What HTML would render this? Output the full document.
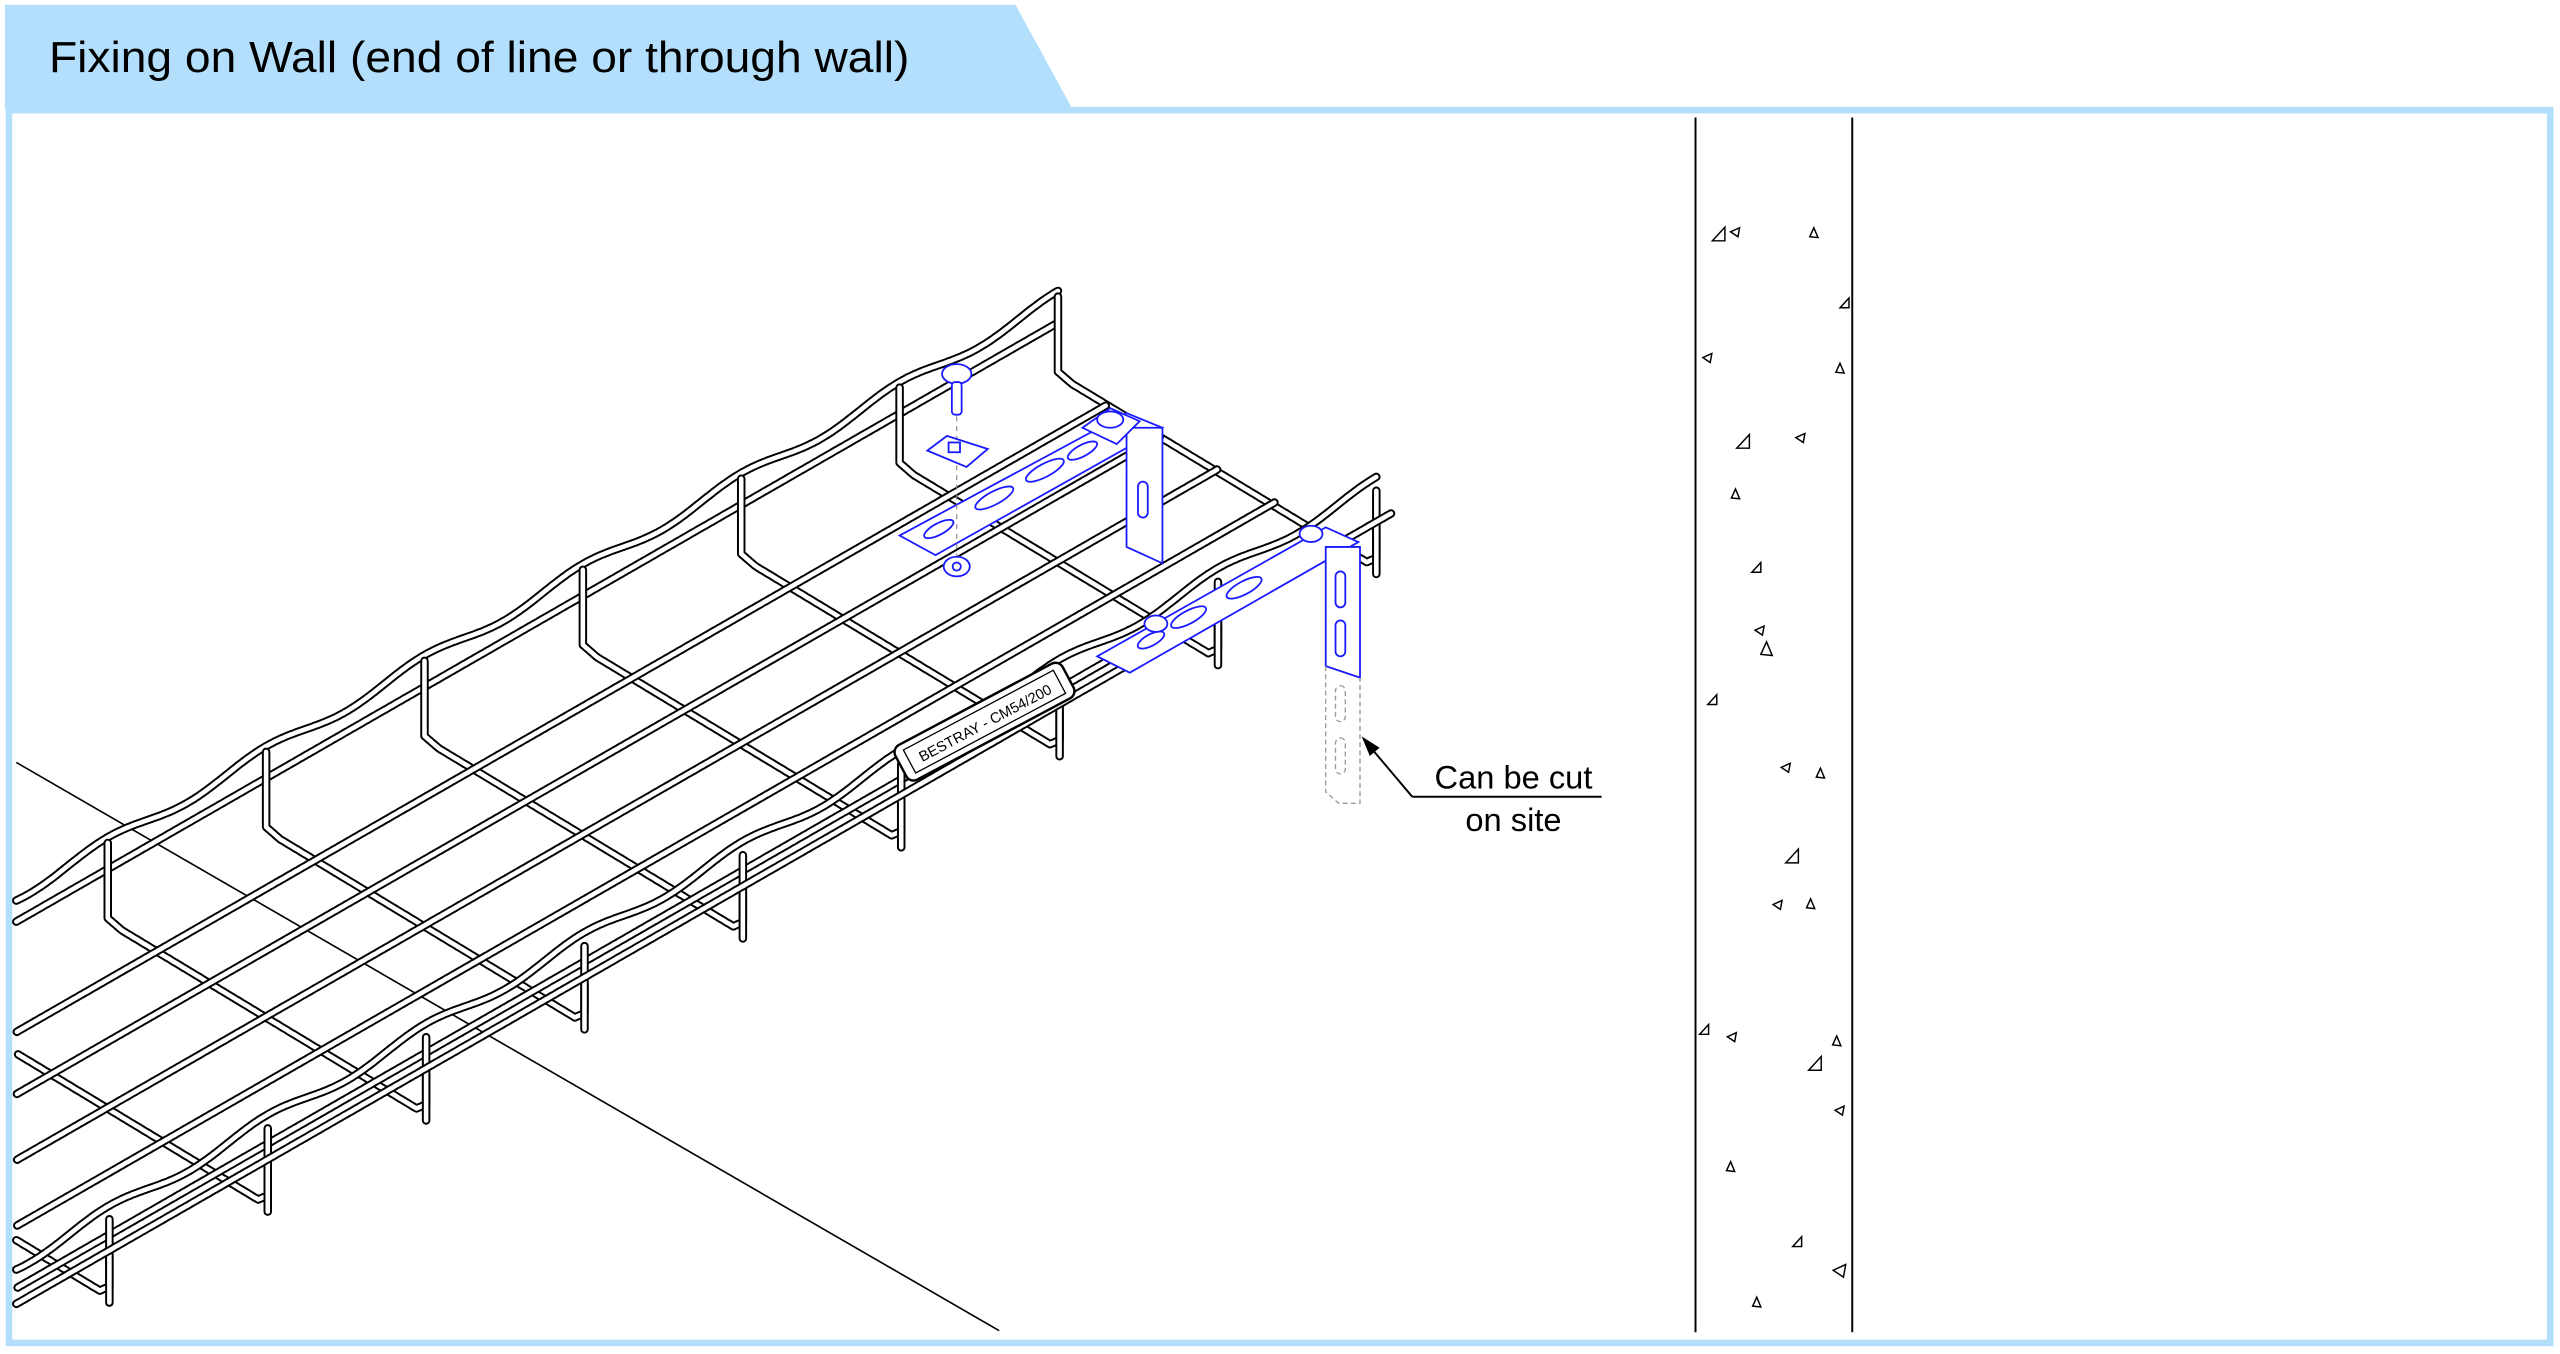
<!DOCTYPE html>
<html><head><meta charset="utf-8">
<style>
html,body{margin:0;padding:0;background:#fff;width:2560px;height:1354px;overflow:hidden;position:relative;}
svg#s{display:block;position:absolute;left:0;top:0;}
</style></head>
<body>
<svg id="s" width="2560" height="1354" viewBox="0 0 1568 829.3" preserveAspectRatio="none" xmlns="http://www.w3.org/2000/svg">
<rect x="0" y="0" width="1568" height="829.3" fill="#fff"/>
<polygon points="3,3 622,3 657,67 3,67" fill="#b3dffd"/>
<rect x="5.5" y="67.5" width="1556.5" height="755" fill="none" stroke="#b3dffd" stroke-width="4"/>
<text x="30" y="44" font-family="Liberation Sans, sans-serif" font-size="26.5" textLength="527" lengthAdjust="spacingAndGlyphs" fill="#000">Fixing on Wall (end of line or through wall)</text>
<line x1="1038.5" y1="72" x2="1038.5" y2="816" stroke="#000" stroke-width="1.2"/>
<line x1="1134.5" y1="72" x2="1134.5" y2="816" stroke="#000" stroke-width="1.2"/>
<g id="tri" fill="none" stroke="#000" stroke-width="0.9"></g>
<line x1="10" y1="467" x2="612" y2="815" stroke="#000" stroke-width="1"/>
<g id="tray" fill="none" stroke-linejoin="round" stroke-linecap="round"></g>
<g fill="#fff" stroke="#1a1aff" stroke-width="1.1">
 <polygon points="551,328 690,253 712,262 573,340"/>
 <polygon points="690,262 712,262 712,345 690,335"/>
 <rect x="697" y="295" width="6" height="22" rx="3"/>
 <ellipse cx="609" cy="305" rx="13" ry="4" transform="rotate(-28 609 305)"/>
 <ellipse cx="640" cy="288" rx="13" ry="4" transform="rotate(-28 640 288)"/>
 <ellipse cx="663" cy="276" rx="10" ry="3.5" transform="rotate(-28 663 276)"/>
 <ellipse cx="575" cy="324" rx="10" ry="3.5" transform="rotate(-28 575 324)"/>
 <polygon points="663,262 680,250 698,258 684,272"/>
 <ellipse cx="680" cy="257" rx="8" ry="5"/>
 <ellipse cx="586" cy="229" rx="9" ry="6"/>
 <rect x="583" y="234" width="6" height="20" rx="2"/>
 <line x1="586" y1="255" x2="586" y2="345" stroke-dasharray="3,3" stroke="#888" stroke-width="0.7"/>
 <polygon points="568,276 580,267 605,275 592,286"/>
 <rect x="581" y="271" width="7" height="6"/>
 <ellipse cx="586" cy="347" rx="8" ry="6"/>
 <circle cx="586" cy="347" r="2.5"/>
 <polygon points="672,402 812,323 832,332 692,412"/>
 <polygon points="812,335 833,335 833,415 812,408"/>
 <rect x="818" y="350" width="6" height="22" rx="3"/>
 <rect x="818" y="380" width="6" height="22" rx="3"/>
 <ellipse cx="728" cy="378" rx="12" ry="4" transform="rotate(-28 728 378)"/>
 <ellipse cx="762" cy="360" rx="12" ry="4" transform="rotate(-28 762 360)"/>
 <ellipse cx="705" cy="392" rx="9" ry="3.5" transform="rotate(-28 705 392)"/>
 <ellipse cx="803" cy="327" rx="7" ry="5"/>
 <ellipse cx="708" cy="382" rx="7" ry="5"/>
</g>
<g fill="none" stroke="#999" stroke-width="0.8" stroke-dasharray="3,2">
 <polyline points="812,408 812,485 820,492 833,492 833,415"/>
 <rect x="818" y="420" width="6" height="22" rx="3"/>
 <rect x="818" y="452" width="6" height="22" rx="3"/>
</g>
<g transform="translate(603,442) rotate(-28)">
 <rect x="-58" y="-12" width="116" height="24" rx="5" fill="#fff" stroke="#000" stroke-width="1.5"/>
 <rect x="-52" y="-8" width="104" height="16" fill="#fff" stroke="#000" stroke-width="0.8"/>
 <text x="0" y="4" text-anchor="middle" font-family="Liberation Sans, sans-serif" font-size="9" fill="#000">BESTRAY - CM54/200</text>
</g>
<line x1="865" y1="488" x2="981" y2="488" stroke="#000" stroke-width="1.2"/>
<line x1="865" y1="488" x2="838" y2="456" stroke="#000" stroke-width="1.2"/>
<polygon points="834,451 845,458 839,463" fill="#000"/>
<text x="927" y="483" text-anchor="middle" font-family="Liberation Sans, sans-serif" font-size="20" fill="#000">Can be cut</text>
<text x="927" y="509" text-anchor="middle" font-family="Liberation Sans, sans-serif" font-size="20" fill="#000">on site</text>
</svg>
<script>
(function(){
var NS="http://www.w3.org/2000/svg";
var tray=document.getElementById("tray");
function P(x,t,h){return [x+195*t, 290-0.575*(x-550)+112*t-h];}
function pts(a){return a.map(function(p){return p[0].toFixed(1)+","+p[1].toFixed(1);}).join(" ");}
function inside(p){return p[0]>=10&&p[0]<=1558&&p[1]>=72&&p[1]<=818;}
function dens(a){var o=[a[0]];for(var i=1;i<a.length;i++){var p=a[i-1],q=a[i];var d=Math.hypot(q[0]-p[0],q[1]-p[1]);var n=Math.max(1,Math.ceil(d/1.5));for(var k=1;k<=n;k++)o.push([p[0]+(q[0]-p[0])*k/n,p[1]+(q[1]-p[1])*k/n]);}return o;}
function draw(a){if(a.length<2)return;
 [["#000",5.2],["#fff",2.8]].forEach(function(s){
  var e=document.createElementNS(NS,"polyline");
  e.setAttribute("points",pts(a));e.setAttribute("stroke",s[0]);e.setAttribute("stroke-width",s[1]);
  tray.appendChild(e);});}
function tube(a){
 var d=dens(a),run=[];
 d.forEach(function(p){if(inside(p))run.push(p);else{draw(run);run=[];}});
 draw(run);
}
var xs=[];for(var x=648;x>-500;x-=97)xs.push(x);
var x0=-600,x1=650;
function rail(t,h,wavy,ext){
 var a=[];for(var x=x0;x<=x1+ext;x+=3){var hh=h;if(wavy){var ph=((x-648)%97+97)%97/97;hh=h+3.5*Math.cos(ph*2*Math.PI);}a.push(P(x,t,hh));}
 tube(a);
}
rail(0,36,false,0);
rail(0,52,true,0);
xs.forEach(function(x){
 tube([P(x,0,52),P(x,0,6),P(x+3,0.03,0),P(x,0.97,-2),P(x,1,4),P(x,1,22)]);
});
[0.15,0.32,0.5,0.68,0.85].forEach(function(t){rail(t,2,false,0);});
xs.forEach(function(x){tube([P(x,1,-6),P(x,1,45)]);});
rail(1,26,false,8);
rail(1,50,true,0);
var T=[[1053,144,7],[1063,142,5],[1111,143,5],[1130,186,5],[1046,219,5],[1127,226,5],[1068,271,7],[1103,268,5],[1063,303,5],[1076,348,5],[1078,386,5],[1082,398,7],[1049,429,5],[1094,470,5],[1115,474,5],[1098,525,7],[1089,554,5],[1109,554,5],[1044,631,5],[1061,635,5],[1125,638,5],[1112,652,7],[1127,680,5],[1060,715,5],[1101,761,5],[1127,778,7],[1076,798,5]];
var g=document.getElementById("tri");
T.forEach(function(t,i){var x=t[0],y=t[1],s=t[2];var e=document.createElementNS(NS,"polygon");
 var r=i%3;var p=r==0?[[x-s*0.6,y+s*0.5],[x+s*0.5,y-s*0.7],[x+s*0.5,y+s*0.5]]:r==1?[[x-s*0.6,y],[x+s*0.5,y-s*0.5],[x+s*0.3,y+s*0.6]]:[[x,y-s*0.7],[x+s*0.5,y+s*0.5],[x-s*0.5,y+s*0.4]];
 e.setAttribute("points",pts(p));g.appendChild(e);});
})();
</script>
</body></html>
